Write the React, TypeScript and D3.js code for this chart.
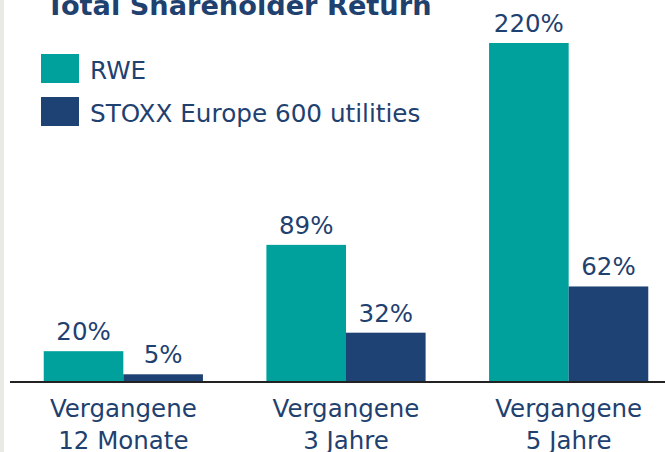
import React from "react";
import * as d3 from "d3";

const categories = ["Vergangene|12 Monate", "Vergangene|3 Jahre", "Vergangene|5 Jahre"];
const seriesNames = ["RWE", "STOXX Europe 600 utilities"];
const rweValues = [20, 89, 220];
const stoxxValues = [5, 32, 62];
const colors = ["#00a19c", "#1e4273"];
const textColor = "#1f4170";
const font = "'DejaVu Sans', sans-serif";

export default function App() {
  const W = 665, H = 452;
  const baseY = 382;
  const x = d3.scaleBand<string>().domain(categories).range([12, 680]).paddingInner(0.285).paddingOuter(0.1425);
  const xs = d3.scaleBand<string>().domain(seriesNames).range([0, x.bandwidth()]).padding(0);
  const y = d3.scaleLinear().domain([0, 220]).range([baseY, 43]);
  const series = [rweValues, stoxxValues];

  return (
    <svg width={W} height={H} style={{ position: "absolute", left: 0, top: 0, background: "#fff" }}>
      <rect x={0} y={0} width={4} height={H} fill="#e9e9e6" />
      <text x={46} y={15} fontFamily={font} fontWeight={700} fontSize={27.2} fill={textColor}>
        Total Shareholder Return
      </text>
      {seriesNames.map((s, i) => (
        <g key={s}>
          <rect x={41} y={54 + i * 43} width={38} height={29} fill={colors[i]} />
          <text x={90} y={79 + i * 43} fontFamily={font} fontSize={24.7} fill={textColor}>{s}</text>
        </g>
      ))}
      {categories.map((c, ci) => (
        <g key={c}>
          {series.map((vals, si) => {
            const bx = (x(c) ?? 0) + (xs(seriesNames[si]) ?? 0);
            const v = vals[ci];
            return (
              <g key={si}>
                <rect x={bx} y={y(v)} width={xs.bandwidth()} height={baseY - y(v)} fill={colors[si]} />
                <text x={bx + xs.bandwidth() / 2} y={y(v) - 11} textAnchor="middle" fontFamily={font} fontSize={24.5} fill={textColor}>
                  {v}%
                </text>
              </g>
            );
          })}
          {c.split("|").map((line, li) => (
            <text key={li} x={(x(c) ?? 0) + x.bandwidth() / 2} y={417 + li * 32} textAnchor="middle" fontFamily={font} fontSize={24.5} fill={textColor}>
              {line}
            </text>
          ))}
        </g>
      ))}
      <line x1={10} x2={665} y1={baseY} y2={baseY} stroke="#222" strokeWidth={2} />
    </svg>
  );
}
